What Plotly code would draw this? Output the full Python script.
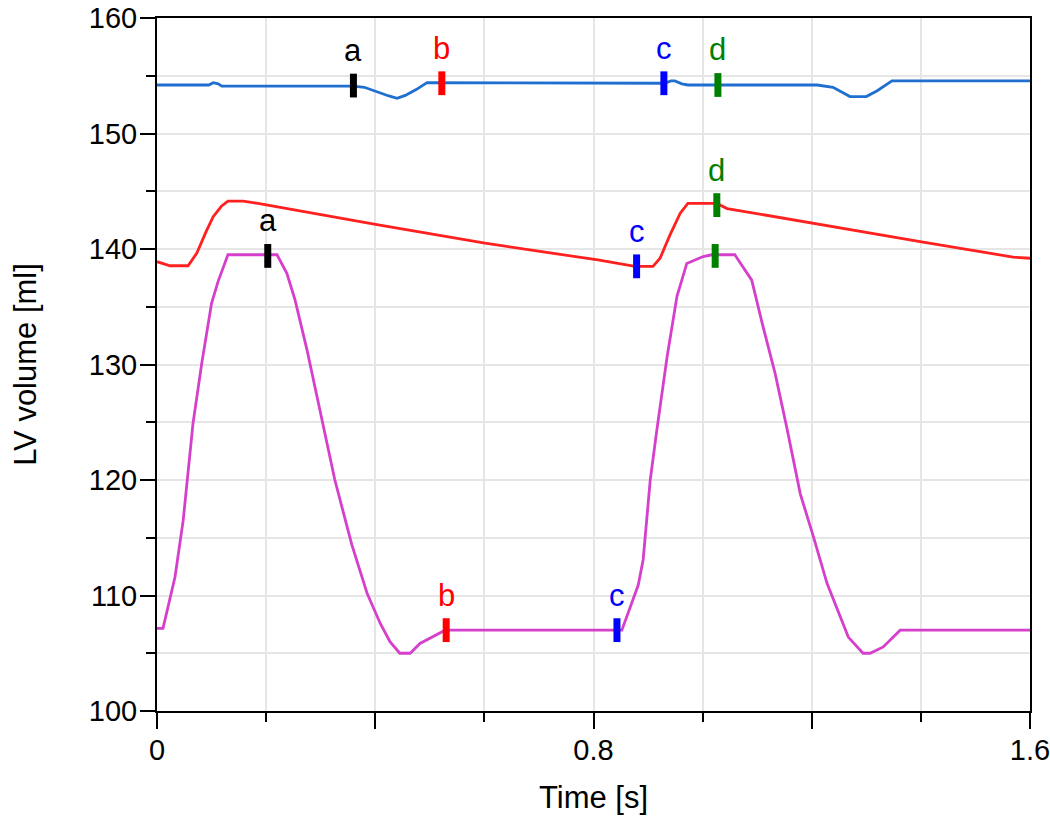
import plotly.graph_objects as go

# ---- data ----
blue_t = [0.0, 0.095, 0.103, 0.112, 0.119, 0.36, 0.38, 0.403, 0.425, 0.44, 0.455, 0.475, 0.495,
          0.93, 0.942, 0.949, 0.962, 0.973, 1.21, 1.239, 1.255, 1.27, 1.30, 1.32, 1.347, 1.6]
blue_v = [154.2, 154.2, 154.4, 154.3, 154.1, 154.1, 154.0, 153.6, 153.25, 153.05, 153.3, 153.8, 154.4,
          154.35, 154.55, 154.55, 154.3, 154.2, 154.2, 154.0, 153.6, 153.2, 153.2, 153.7, 154.55, 154.55]

red_t = [0.0, 0.024, 0.057, 0.073, 0.09, 0.103, 0.118, 0.13, 0.158, 0.185, 0.403, 0.601, 0.808,
         0.876, 0.909, 0.922, 0.94, 0.959, 0.973, 1.026, 1.045, 1.203, 1.404, 1.569, 1.6]
red_v = [138.9, 138.55, 138.55, 139.65, 141.5, 142.8, 143.7, 144.15, 144.15, 143.95, 142.1, 140.5, 139.05,
         138.5, 138.5, 139.2, 141.2, 143.1, 143.95, 143.95, 143.5, 142.2, 140.6, 139.3, 139.2]

mag_t = [0.0, 0.011, 0.033, 0.048, 0.066, 0.082, 0.1, 0.112, 0.13, 0.22, 0.238, 0.253, 0.275, 0.305,
         0.326, 0.357, 0.385, 0.409, 0.427, 0.445, 0.464, 0.482, 0.528, 0.852, 0.882, 0.891, 0.904,
         0.916, 0.935, 0.953, 0.971, 1.001, 1.017, 1.059, 1.09, 1.109, 1.133, 1.154, 1.179, 1.203,
         1.228, 1.267, 1.294, 1.307, 1.331, 1.362, 1.6]
mag_v = [107.15, 107.15, 111.6, 116.5, 124.9, 130.1, 135.3, 137.2, 139.5, 139.5, 137.9, 135.6, 131.25,
         124.6, 120.0, 114.4, 110.2, 107.6, 106.0, 105.0, 105.0, 105.85, 107.0, 107.0, 110.9, 113.1,
         120.0, 124.3, 130.7, 135.9, 138.75, 139.35, 139.5, 139.5, 137.3, 133.6, 129.2, 124.6, 118.8,
         115.1, 111.05, 106.4, 105.0, 105.0, 105.55, 107.0, 107.0]

# event markers: time, volume, label, colour
mk_t = [0.36, 0.522, 0.929, 1.028, 0.879, 1.026, 0.203, 0.53, 0.843, 1.023]
mk_v = [154.15, 154.35, 154.35, 154.2, 138.5, 143.8, 139.4, 107.0, 107.0, 139.4]
mk_label = ["a", "b", "c", "d", "c", "d", "a", "b", "c", ""]
mk_color = ["#000000", "#ff0000", "#0000ff", "#008000", "#0000ff", "#008000",
            "#000000", "#ff0000", "#0000ff", "#008000"]

x_ticks = [0, 0.4, 0.8, 1.2, 1.6]
x_ticktext = ["0", "", "0.8", "", "1.6"]
y_ticks = [100, 110, 120, 130, 140, 150, 160]

FONT = "Liberation Sans, Arial, sans-serif"

fig = go.Figure()
fig.add_trace(go.Scatter(x=blue_t, y=blue_v, mode="lines",
                         line=dict(color="#1f6fd0", width=2.8), showlegend=False))
fig.add_trace(go.Scatter(x=red_t, y=red_v, mode="lines",
                         line=dict(color="#ff2020", width=2.8), showlegend=False))
fig.add_trace(go.Scatter(x=mag_t, y=mag_v, mode="lines",
                         line=dict(color="#d63fcb", width=2.8), showlegend=False))
fig.add_trace(go.Scatter(x=mk_t, y=mk_v, mode="markers",
                         marker=dict(symbol="line-ns", size=17,
                                     line=dict(color=mk_color, width=7)),
                         showlegend=False))

for t, v, lab, c in zip(mk_t, mk_v, mk_label, mk_color):
    if lab:
        fig.add_annotation(x=t, y=v, text=lab, showarrow=False, yanchor="middle",
                           yshift=35, font=dict(family=FONT, size=31, color=c))

common_minor = dict(ticks="outside", ticklen=9, tickwidth=2, tickcolor="black",
                    showgrid=True, gridcolor="#e6e6e6", gridwidth=1.5)

fig.update_layout(
    width=1050, height=821,
    margin=dict(l=157, r=20, t=18, b=110),
    paper_bgcolor="white", plot_bgcolor="white",
    font=dict(family=FONT, size=29, color="black"),
    xaxis=dict(range=[0, 1.6], tickmode="array", tickvals=x_ticks, ticktext=x_ticktext,
               ticks="outside", ticklen=16, tickwidth=2, tickcolor="black",
               showgrid=True, gridcolor="#e6e6e6", gridwidth=1.5,
               minor=dict(tickmode="linear", tick0=0, dtick=0.2, **common_minor),
               showline=True, linecolor="black", linewidth=2, mirror=True, zeroline=False,
               automargin=False, ticklabeloverflow="allow", ticklabelstandoff=-4,
               title=dict(text="Time [s]", font=dict(size=31), standoff=22),
               tickfont=dict(size=29)),
    yaxis=dict(range=[100, 160], tickmode="array", tickvals=y_ticks,
               ticks="outside", ticklen=15, tickwidth=2, tickcolor="black",
               showgrid=True, gridcolor="#e6e6e6", gridwidth=1.5,
               minor=dict(tickmode="linear", tick0=100, dtick=5, **common_minor),
               showline=True, linecolor="black", linewidth=2, mirror=True, zeroline=False,
               automargin=False, ticklabeloverflow="allow", ticklabelstandoff=-3,
               title=dict(text="LV volume [ml]", font=dict(size=31), standoff=43),
               tickfont=dict(size=29)),
)

fig.write_html("out.html", config={"displayModeBar": False},
               post_script="document.body.style.margin='0';")
